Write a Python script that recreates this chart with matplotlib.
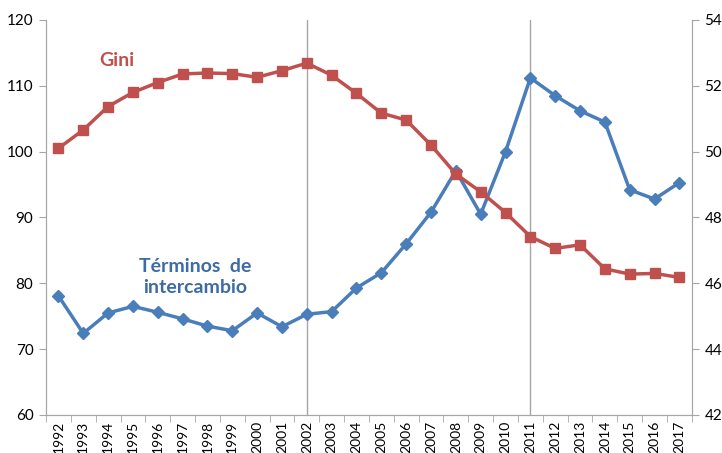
import numpy as np
import matplotlib.pyplot as plt

plt.rcParams['font.family'] = ['Lato', 'DejaVu Sans']

years = [str(y) for y in range(1992, 2018)]
terminos = [78.1, 72.4, 75.5, 76.5, 75.6, 74.6, 73.5, 72.8, 75.5, 73.4, 75.3, 75.7, 79.3,
            81.6, 86.0, 90.8, 97.1, 90.5, 100.0, 111.2, 108.5, 106.2, 104.5, 94.2, 92.8, 95.3]
gini = [50.1, 50.66, 51.37, 51.8, 52.1, 52.36, 52.39, 52.37, 52.26, 52.46, 52.69, 52.32, 51.77,
        51.17, 50.96, 50.2, 49.32, 48.78, 48.15, 47.42, 47.06, 47.17, 46.44, 46.28, 46.3, 46.18]

blue = '#4A7EBB'
red = '#C0504D'
grey = '#A6A6A6'

x = np.arange(len(years))

fig = plt.figure(figsize=(7.22, 4.53), dpi=100)
ax = fig.add_axes([0.0637, 0.0839, 0.8945, 0.872])
ax2 = ax.twinx()

ax.plot(x, terminos, color=blue, lw=2.5, marker='D', ms=6.5, zorder=3)
ax2.plot(x, gini, color=red, lw=2.5, marker='s', ms=7.5, zorder=3)

for yr in ['2002', '2011']:
    ax.axvline(years.index(yr), color=grey, lw=1, zorder=1)

ax.set_xlim(-0.5, len(years) - 0.5)
ax.set_ylim(60, 120)
ax.set_yticks(np.arange(60, 121, 10))
ax2.set_ylim(42, 54)
ax2.set_yticks(np.arange(42, 55, 2))

ax.set_xticks(x)
ax.set_xticklabels(years, rotation=90, fontsize=10)
ax.set_xticks(np.arange(-0.5, len(years), 1), minor=True)
ax.tick_params(axis='x', which='major', length=0, pad=4)
ax.tick_params(axis='x', which='minor', length=5, color=grey)
ax.tick_params(axis='y', length=5, color=grey, labelsize=11, pad=4)
ax2.tick_params(axis='y', length=5, color=grey, labelsize=11, pad=4)

for a in (ax, ax2):
    a.spines['top'].set_visible(False)
    for s in ('left', 'right', 'bottom'):
        a.spines[s].set_color(grey)

fig.text(117 / 722, 1 - 60 / 453, 'Gini', fontsize=14, fontweight='bold', color=red,
         ha='center', va='center')
fig.text(195 / 722, 1 - 277 / 453, 'Términos  de\nintercambio', fontsize=14,
         fontweight='bold', color='#3D6BA6', ha='center', va='center', linespacing=1.3)

fig.savefig('out.png', dpi=100)
